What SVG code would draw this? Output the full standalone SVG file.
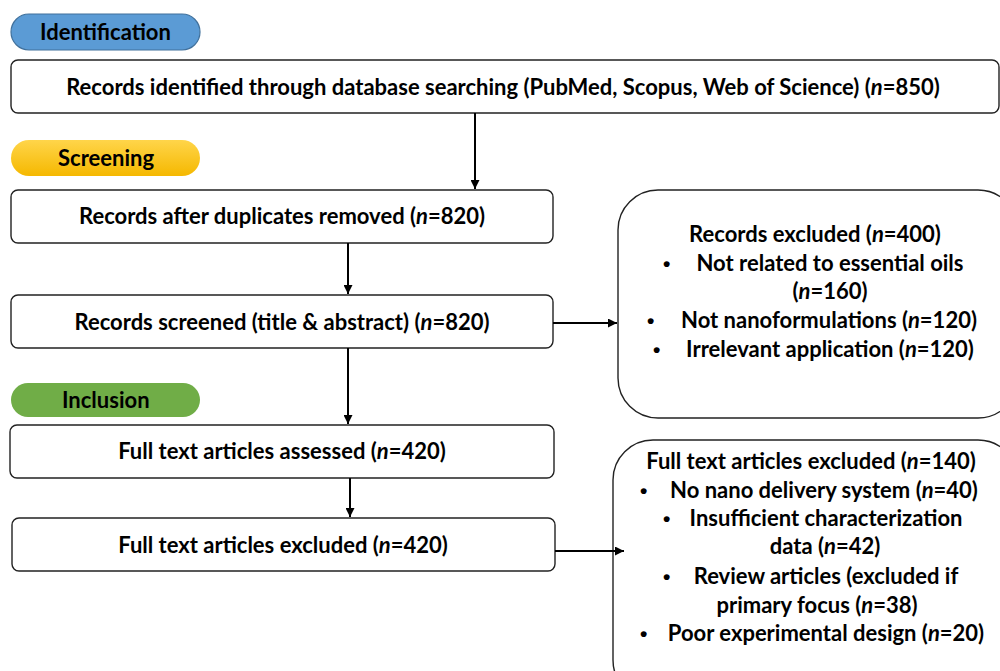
<svg xmlns="http://www.w3.org/2000/svg" width="1000" height="671" viewBox="0 0 1000 671">
<style>
.box{fill:#fff;stroke:#222;stroke-width:1.4}
.t{font-family:Lato,"Open Sans","Liberation Sans",sans-serif;font-weight:bold;font-size:22px;fill:#000}
.b{font-family:"Liberation Sans",sans-serif;font-weight:bold;font-size:21px;fill:#000}
.c{text-anchor:middle}
.ln{stroke:#000;stroke-width:2;fill:none}
</style>
<defs>
<marker id="ah" viewBox="0 0 10 10" refX="10" refY="5" markerWidth="10" markerHeight="9" orient="auto" markerUnits="userSpaceOnUse">
<path d="M0,0 L10,5 L0,10 z" fill="#000"/>
</marker>
<linearGradient id="yg" x1="0" y1="0" x2="0" y2="1"><stop offset="0" stop-color="#ffd54a"/><stop offset="1" stop-color="#f5b800"/></linearGradient>
</defs>
<rect width="1000" height="671" fill="#fff"/>

<g id="identification">
<rect x="11" y="14" width="189" height="36" rx="18" fill="#5b9bd5" stroke="#41719c" stroke-width="1.2"/>
<text class="t" x="40" y="40">Identification</text>
</g>
<g id="screening">
<rect x="11" y="140" width="189" height="36" rx="18" fill="url(#yg)"/>
<text class="t" x="58" y="166">Screening</text>
</g>
<g id="inclusion">
<rect x="11" y="383" width="189" height="34" rx="17" fill="#70ad47"/>
<text class="t" x="62" y="408">Inclusion</text>
</g>

<g id="n1">
<rect class="box" x="11" y="60" width="988" height="53" rx="7"/>
<text class="t c" x="503" y="95">Records identified through database searching (PubMed, Scopus, Web of Science) (<tspan font-style="italic">n</tspan>=850)</text>
</g>
<g id="n2">
<rect class="box" x="11" y="190" width="542" height="53" rx="7"/>
<text class="t c" x="282" y="224">Records after duplicates removed (<tspan font-style="italic">n</tspan>=820)</text>
</g>
<g id="n3">
<rect class="box" x="11" y="295" width="542" height="53" rx="7"/>
<text class="t c" x="282" y="330">Records screened (title &amp; abstract) (<tspan font-style="italic">n</tspan>=820)</text>
</g>
<g id="n4">
<rect class="box" x="10" y="425" width="544" height="53" rx="7"/>
<text class="t c" x="282" y="459">Full text articles assessed (<tspan font-style="italic">n</tspan>=420)</text>
</g>
<g id="n5">
<rect class="box" x="12" y="518" width="543" height="53" rx="7"/>
<text class="t c" x="283" y="553">Full text articles excluded (<tspan font-style="italic">n</tspan>=420)</text>
</g>

<g id="ex1">
<rect class="box" x="618" y="190" width="400" height="228" rx="40"/>
<text class="t c" x="815" y="242">Records excluded (<tspan font-style="italic">n</tspan>=400)</text>
<text class="b" x="663" y="271">•</text>
<text class="t c" x="830" y="271">Not related to essential oils</text>
<text class="t c" x="830" y="299">(<tspan font-style="italic">n</tspan>=160)</text>
<text class="b" x="647" y="328">•</text>
<text class="t c" x="829" y="328">Not nanoformulations (<tspan font-style="italic">n</tspan>=120)</text>
<text class="b" x="653" y="357">•</text>
<text class="t c" x="830" y="357">Irrelevant application (<tspan font-style="italic">n</tspan>=120)</text>
</g>

<g id="ex2">
<rect class="box" x="613" y="440" width="405" height="260" rx="40"/>
<text class="t c" x="811" y="469">Full text articles excluded (<tspan font-style="italic">n</tspan>=140)</text>
<text class="b" x="640" y="498">•</text>
<text class="t c" x="824" y="498">No nano delivery system (<tspan font-style="italic">n</tspan>=40)</text>
<text class="b" x="663" y="526">•</text>
<text class="t c" x="826" y="526">Insufficient characterization</text>
<text class="t c" x="825" y="554">data (<tspan font-style="italic">n</tspan>=42)</text>
<text class="b" x="663" y="584">•</text>
<text class="t c" x="826" y="584">Review articles (excluded if</text>
<text class="t c" x="817" y="613">primary focus (<tspan font-style="italic">n</tspan>=38)</text>
<text class="b" x="640" y="641">•</text>
<text class="t c" x="826" y="641">Poor experimental design (<tspan font-style="italic">n</tspan>=20)</text>
</g>

<g id="connectors">
<line class="ln" x1="475" y1="113" x2="475" y2="189" marker-end="url(#ah)"/>
<line class="ln" x1="348" y1="243" x2="348" y2="294" marker-end="url(#ah)"/>
<line class="ln" x1="553" y1="323" x2="617" y2="323" marker-end="url(#ah)"/>
<line class="ln" x1="348" y1="348" x2="348" y2="424" marker-end="url(#ah)"/>
<line class="ln" x1="350" y1="478" x2="350" y2="517" marker-end="url(#ah)"/>
<line class="ln" x1="555" y1="551" x2="624" y2="551" marker-end="url(#ah)"/>
</g>
</svg>
